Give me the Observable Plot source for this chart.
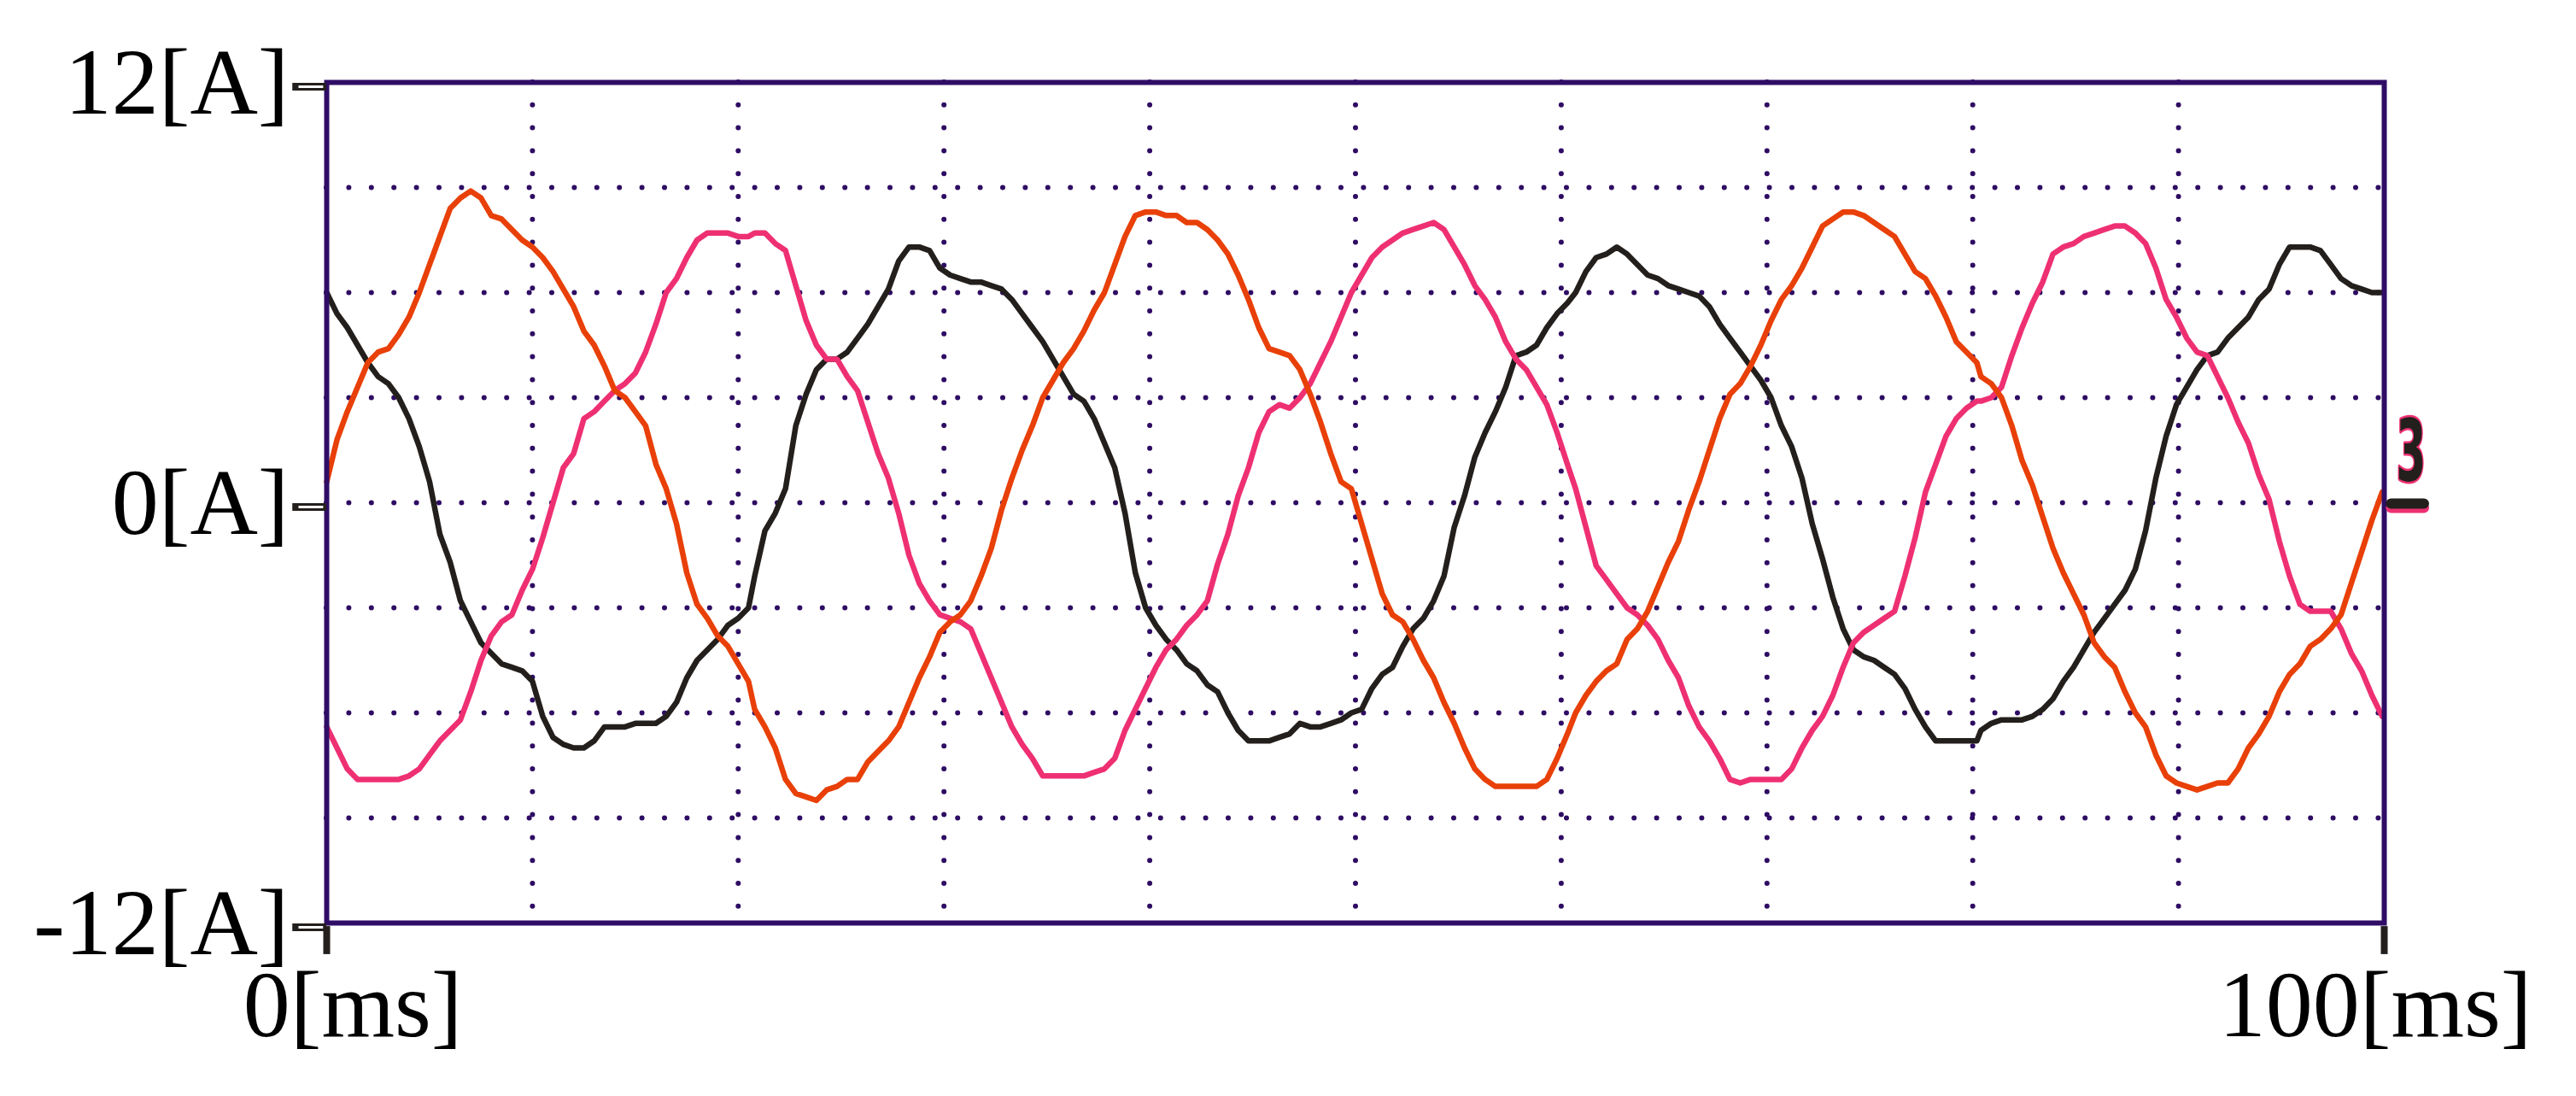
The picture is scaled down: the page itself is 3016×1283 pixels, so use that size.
<!DOCTYPE html>
<html>
<head>
<meta charset="utf-8">
<script src="https://cdn.jsdelivr.net/npm/d3@7"></script>
<script src="https://cdn.jsdelivr.net/npm/@observablehq/plot@0.6"></script>
<style>
html, body { margin: 0; padding: 0; background: #ffffff; }
#chart svg { display: block; }
</style>
</head>
<body>
<div id="chart"></div>
<script>
// ---- Data ----
const timeMs = [
  0,0.5,1,1.5,2,2.5,3,3.5,4,4.5,5,5.5,6,6.5,7,7.5,8,8.5,9,9.5,10,10.5,11,11.5,12,12.5,13,13.5,14,14.5,15,15.5,16,16.5,17,17.5,18,18.5,19,19.5,20,20.5,
  20.8,21.3,21.8,22.3,22.8,23.3,23.8,24.3,24.8,25.3,25.8,26.3,26.8,27.3,27.8,28.3,28.8,29.3,29.8,30.3,30.8,31.3,31.8,32.3,32.8,33.3,33.8,34.3,34.8,35.3,35.8,36.3,36.8,37.3,37.8,38.3,38.8,39.3,39.8,40.3,
  40.8,41.3,41.8,42.3,42.8,43.3,43.8,44.3,44.8,45.3,45.8,46.3,46.8,47.3,47.8,48.3,48.8,49.3,49.8,50.3,50.8,51.3,51.8,52.3,52.8,53.3,53.8,54.3,54.8,55.3,55.8,56.3,56.8,57.3,57.8,58.3,58.8,59.3,59.8,60.3,
  60.7,61.2,61.7,62.2,62.7,63.2,63.7,64.2,64.7,65.2,65.7,66.2,66.7,67.2,67.7,68.2,68.7,69.2,69.7,70.2,70.7,71.2,71.7,72.2,72.7,73.2,73.7,74.2,74.7,75.2,75.7,76.2,76.7,77.2,77.7,78.2,78.7,79.2,79.7,80.2,
  80.4,80.9,81.4,81.9,82.4,82.9,83.4,83.9,84.4,84.9,85.4,85.9,86.4,86.9,87.4,87.9,88.4,88.9,89.4,89.9,90.4,90.9,91.4,91.9,92.4,92.9,93.4,93.9,94.4,94.9,95.4,95.9,96.4,96.9,97.4,97.9,98.4,98.9,99.4,99.9
];

const currentOrange = [
  0.6,1.8,2.6,3.3,4.0,4.3,4.4,4.8,5.3,6.0,6.8,7.6,8.4,8.7,8.9,8.7,8.2,8.1,7.8,7.5,7.3,7.0,6.6,6.1,5.6,4.9,4.5,3.9,3.2,3.0,2.6,2.2,1.1,0.4,-0.6,-2.0,-2.9,-3.3,-3.8,-4.1,-4.6,-5.1,
  -5.9,-6.4,-7.0,-7.9,-8.3,-8.4,-8.5,-8.2,-8.1,-7.9,-7.9,-7.4,-7.1,-6.8,-6.4,-5.7,-5.0,-4.4,-3.7,-3.4,-3.2,-2.8,-2.1,-1.3,-0.2,0.7,1.5,2.2,3.0,3.5,4.0,4.4,4.9,5.5,6.0,6.8,7.6,8.2,8.3,8.3,
  8.2,8.2,8.0,8.0,7.8,7.5,7.1,6.5,5.8,5.0,4.4,4.3,4.2,3.8,3.1,2.3,1.4,0.6,0.4,-0.6,-1.6,-2.6,-3.2,-3.4,-3.9,-4.5,-5.0,-5.7,-6.3,-7.0,-7.6,-7.9,-8.1,-8.1,-8.1,-8.1,-8.1,-7.9,-7.3,-6.6,
  -6.0,-5.5,-5.1,-4.8,-4.6,-3.9,-3.6,-3.1,-2.4,-1.7,-1.1,-0.2,0.6,1.5,2.4,3.1,3.4,3.9,4.5,5.2,5.8,6.2,6.7,7.3,7.9,8.1,8.3,8.3,8.2,8.0,7.8,7.6,7.1,6.6,6.4,5.9,5.3,4.6,4.3,4.0,
  3.6,3.4,3.0,2.2,1.2,0.5,-0.4,-1.3,-2.0,-2.6,-3.2,-4.0,-4.4,-4.7,-5.4,-6.0,-6.4,-7.2,-7.8,-8.0,-8.1,-8.2,-8.1,-8.0,-8.0,-7.6,-7.0,-6.6,-6.1,-5.4,-4.9,-4.6,-4.1,-3.9,-3.6,-3.2,-2.3,-1.4,-0.5,0.3
];

const currentPink = [
  -6.4,-7.0,-7.6,-7.9,-7.9,-7.9,-7.9,-7.9,-7.8,-7.6,-7.2,-6.8,-6.5,-6.2,-5.4,-4.5,-3.8,-3.4,-3.2,-2.5,-1.9,-1.0,0.0,1.0,1.4,2.4,2.6,2.9,3.2,3.4,3.7,4.3,5.1,6.0,6.4,7.0,7.5,7.7,7.7,7.7,7.6,7.6,
  7.7,7.7,7.4,7.2,6.2,5.2,4.5,4.1,4.1,3.6,3.2,2.3,1.4,0.7,-0.3,-1.5,-2.3,-2.8,-3.2,-3.3,-3.4,-3.6,-4.3,-5.0,-5.7,-6.4,-6.9,-7.3,-7.8,-7.8,-7.8,-7.8,-7.8,-7.7,-7.6,-7.3,-6.5,-5.9,-5.3,-4.7,
  -4.2,-3.9,-3.5,-3.2,-2.8,-1.75,-0.9,0.2,1.0,2.0,2.6,2.8,2.7,3.0,3.4,4.0,4.6,5.3,6.0,6.5,7.0,7.3,7.5,7.7,7.8,7.9,8.0,7.8,7.3,6.8,6.2,5.8,5.3,4.6,4.1,3.8,3.3,2.8,2.0,1.1,
  0.4,-0.7,-1.8,-2.2,-2.6,-3.0,-3.2,-3.5,-3.9,-4.5,-5.0,-5.8,-6.4,-6.8,-7.3,-7.9,-8.0,-7.9,-7.9,-7.9,-7.9,-7.6,-7.0,-6.5,-6.1,-5.5,-4.7,-4.0,-3.7,-3.5,-3.3,-3.1,-2.1,-1.0,0.3,1.1,1.9,2.4,2.7,2.9,
  2.9,3.0,3.3,4.2,5.0,5.7,6.3,7.1,7.3,7.4,7.6,7.7,7.8,7.9,7.9,7.7,7.4,6.7,5.8,5.3,4.7,4.3,4.2,3.6,3.0,2.3,1.7,0.8,0.1,-1.1,-2.1,-2.9,-3.1,-3.1,-3.1,-3.6,-4.3,-4.8,-5.5,-6.1
];

const currentBlack = [
  6.0,5.4,5.0,4.5,4.0,3.6,3.4,3.0,2.4,1.6,0.6,-0.9,-1.7,-2.8,-3.4,-4.0,-4.3,-4.6,-4.7,-4.8,-5.1,-6.1,-6.7,-6.9,-7.0,-7.0,-6.8,-6.4,-6.4,-6.4,-6.3,-6.3,-6.3,-6.1,-5.7,-5.0,-4.5,-4.2,-3.9,-3.5,-3.3,-3.0,
  -2.1,-0.8,-0.3,0.4,2.2,3.1,3.8,4.1,4.1,4.3,4.7,5.1,5.6,6.1,6.9,7.3,7.3,7.2,6.7,6.5,6.4,6.3,6.3,6.2,6.1,5.8,5.4,5.0,4.6,4.1,3.6,3.1,2.9,2.4,1.7,1.0,-0.3,-2.0,-3.0,-3.5,
  -3.9,-4.2,-4.6,-4.8,-5.2,-5.4,-6.0,-6.5,-6.8,-6.8,-6.8,-6.7,-6.6,-6.3,-6.4,-6.4,-6.3,-6.2,-6.0,-5.9,-5.3,-4.9,-4.7,-4.1,-3.6,-3.3,-2.8,-2.1,-0.7,0.2,1.3,2.0,2.6,3.3,4.2,4.3,4.5,5.0,5.4,5.7,
  6.0,6.6,7.0,7.1,7.3,7.1,6.8,6.5,6.4,6.2,6.1,6.0,5.9,5.6,5.1,4.7,4.3,3.9,3.5,3.0,2.2,1.6,0.7,-0.6,-1.6,-2.7,-3.6,-4.2,-4.4,-4.5,-4.7,-4.9,-5.3,-5.9,-6.4,-6.8,-6.8,-6.8,-6.8,-6.8,
  -6.5,-6.3,-6.2,-6.2,-6.2,-6.1,-5.9,-5.6,-5.1,-4.7,-4.2,-3.7,-3.3,-2.9,-2.5,-1.9,-0.8,0.7,1.9,2.8,3.3,3.8,4.2,4.3,4.7,5.0,5.3,5.8,6.1,6.8,7.3,7.3,7.3,7.2,6.8,6.4,6.2,6.1,6.0,6.0
];

const yTickValues = [12, 0, -12];
const yTickLabels = ["12[A]", "0[A]", "-12[A]"];
const xTickValues = [0, 100];
const xTickLabels = ["0[ms]", "100[ms]"];
const gridTimes = [10, 20, 30, 40, 50, 60, 70, 80, 90];
const gridCurrents = [9, 6, 3, 0, -3, -6, -9];
const channelMarker = ["3"];

// ---- Styling ----
const COLOR_ORANGE = "#e84008";
const COLOR_PINK = "#ee3073";
const COLOR_BLACK = "#231f1c";
const COLOR_FRAME = "#2f0d66";
const COLOR_GRID = "#2e0c63";

const toRows = (values) => values.map((v, i) => ({t: timeMs[i], v}));
const blackRows = toRows(currentBlack);
const pinkRows = toRows(currentPink);
const orangeRows = toRows(currentOrange);

const lineOpts = {x: "t", y: "v", strokeWidth: 6.5, strokeLinejoin: "round", strokeLinecap: "round"};

const chart = Plot.plot({
  width: 3016,
  height: 1283,
  marginLeft: 382,
  marginRight: 225,
  marginTop: 96,
  marginBottom: 203,
  style: {background: "#ffffff", fontFamily: "'Liberation Serif', 'Times New Roman', serif", overflow: "visible"},
  x: {domain: [0, 100], axis: null},
  y: {domain: [-12, 12], axis: null},
  marks: [
    // dotted grid
    Plot.ruleX(gridTimes, {x: d => d, y1: () => 12, y2: () => -12, stroke: COLOR_GRID, strokeWidth: 6, strokeDasharray: "0 26.8", strokeLinecap: "round"}),
    Plot.ruleY(gridCurrents, {y: d => d, x1: () => 0, x2: () => 100, stroke: COLOR_GRID, strokeWidth: 6, strokeDasharray: "0 26.4", strokeLinecap: "round"}),
    // waveforms
    Plot.line(blackRows, {...lineOpts, stroke: COLOR_BLACK}),
    Plot.line(pinkRows, {...lineOpts, stroke: COLOR_PINK}),
    Plot.line(orangeRows, {...lineOpts, stroke: COLOR_ORANGE}),
    // frame
    Plot.frame({stroke: COLOR_FRAME, strokeWidth: 6}),
    // tick marks (outlined flags on the y axis, solid on the x axis)
    Plot.ruleY(yTickValues, {y: d => d, x1: () => -1.65, x2: () => 0, stroke: COLOR_BLACK, strokeWidth: 9, dy: 5}),
    Plot.ruleY(yTickValues, {y: d => d, x1: () => -1.35, x2: () => -0.15, stroke: "#ffffff", strokeWidth: 3, dy: 5}),
    Plot.ruleX(xTickValues, {x: d => d, y1: () => -12.1, y2: () => -12.9, stroke: COLOR_BLACK, strokeWidth: 8}),
    // tick labels
    Plot.text(yTickValues, {y: d => d, text: (d, i) => yTickLabels[i], frameAnchor: "left", textAnchor: "end", lineAnchor: "middle", dx: -44, dy: 1, fontSize: 110, fill: "#000000"}),
    Plot.text([xTickValues[0]], {x: d => d, text: () => xTickLabels[0], frameAnchor: "bottom", textAnchor: "end", lineAnchor: "bottom", dx: 159, dy: 132, fontSize: 110, fill: "#000000"}),
    Plot.text([xTickValues[1]], {x: d => d, text: () => xTickLabels[1], frameAnchor: "bottom", textAnchor: "end", lineAnchor: "bottom", dx: 173, dy: 132, fontSize: 110, fill: "#000000"}),
    // channel zero marker on the right
    Plot.ruleY([0], {y: d => d, x1: () => 100.35, x2: () => 101.95, stroke: COLOR_PINK, strokeWidth: 12, strokeLinecap: "round", dy: 6}),
    Plot.ruleY([0], {y: d => d, x1: () => 100.35, x2: () => 101.95, stroke: COLOR_BLACK, strokeWidth: 12, strokeLinecap: "round", dy: 1}),
    Plot.text(channelMarker, {x: () => 101.3, y: () => 1.4, text: d => d, fontSize: 100, fontWeight: "bold", fontFamily: "DejaVu Sans", fill: COLOR_BLACK, stroke: COLOR_PINK, strokeWidth: 5, paintOrder: "stroke"})
  ]
});

document.getElementById("chart").appendChild(chart);

// narrow the channel marker glyph like the oscilloscope font (scale about its own centre)
Array.from(chart.querySelectorAll("text"))
  .filter(el => el.textContent === channelMarker[0])
  .forEach(el => {
    const bb = el.getBBox();
    const cx = bb.x + bb.width / 2;
    const t = el.getAttribute("transform") || "";
    el.setAttribute("transform", `${t} translate(${cx},0) scale(0.5,1) translate(${-cx},0)`);
  });
</script>
</body>
</html>
